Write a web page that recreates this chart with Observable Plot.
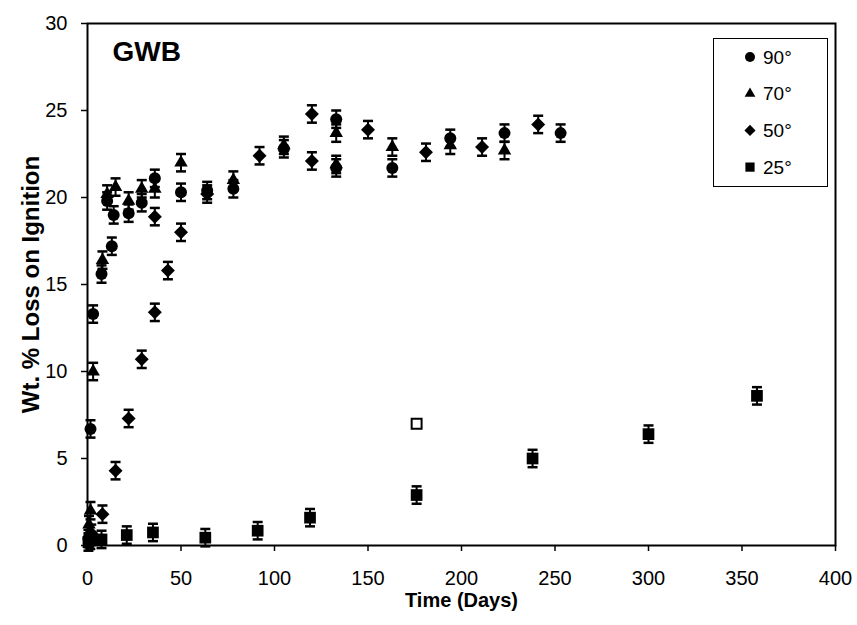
<!DOCTYPE html>
<html>
<head>
<meta charset="utf-8">
<script src="https://cdn.jsdelivr.net/npm/d3@7"></script>
<script src="https://cdn.jsdelivr.net/npm/@observablehq/plot@0.6"></script>
<style>
  body { margin: 0; background: #fff; }
  #wrap { position: relative; width: 857px; height: 625px; font-family: "Liberation Sans", Arial, sans-serif; }
  #legend { position: absolute; left: 713px; top: 38px; }
</style>
</head>
<body>
<div id="wrap"><div id="chart"></div><div id="legend"></div></div>
<script>
// ---- data ----
const days90 = [0.5, 1.6, 3, 7.5, 10.5, 13, 14, 22, 29, 36, 50, 64, 78, 105, 133, 133, 163, 194, 223, 253];
const wt90   = [0.4, 6.7, 13.3, 15.6, 19.8, 17.2, 19.0, 19.1, 19.7, 21.1, 20.3, 20.4, 20.5, 22.8, 24.5, 21.7, 21.7, 23.4, 23.7, 23.7];

const days70 = [0.8, 1.6, 3, 8, 10.5, 15, 22, 29, 36, 50, 78, 105, 133, 133, 163, 194, 223];
const wt70   = [1.2, 2.0, 10.0, 16.4, 20.2, 20.6, 19.8, 20.5, 20.5, 22.0, 21.0, 23.0, 23.7, 21.9, 22.9, 23.0, 22.7];

const days50 = [2, 8, 15, 22, 29, 36, 36, 43, 50, 64, 92, 120, 120, 150, 181, 211, 241];
const wt50   = [0.7, 1.8, 4.3, 7.3, 10.7, 13.4, 18.9, 15.8, 18.0, 20.2, 22.4, 24.8, 22.1, 23.9, 22.6, 22.9, 24.2];

const days25 = [0.5, 1.5, 7.5, 21, 35, 63, 91, 119, 176, 238, 300, 358];
const wt25   = [0.2, 0.3, 0.35, 0.6, 0.75, 0.45, 0.85, 1.6, 2.9, 5.0, 6.4, 8.6];

const daysOpen = [176];
const wtOpen   = [7.0];

const errHalf = 0.5;
const xTicks = [0, 50, 100, 150, 200, 250, 300, 350, 400];
const yTicks = [0, 5, 10, 15, 20, 25, 30];
const seriesNames = ["90°", "70°", "50°", "25°"];
const seriesSymbols = ["circle", "triangle", "diamond2", "square"];
const seriesR = [6, 5, 6.3, 6.6];

// ---- build rows ----
const sets = [[days90, wt90], [days70, wt70], [days50, wt50], [days25, wt25]];
const rows = [];
sets.forEach(([ds, vs], i) => ds.forEach((d, j) => rows.push({day: d, v: vs[j], s: i})));
const openRows = daysOpen.map((d, j) => ({day: d, v: wtOpen[j]}));

const capSymbol = {
  draw(ctx, size) { const w = Math.sqrt(size / Math.PI); ctx.moveTo(-w, 0); ctx.lineTo(w, 0); }
};

const font = "Liberation Sans, Arial, sans-serif";

const marks = [
  Plot.ruleX(rows, {x: "day", y1: d => d.v - errHalf, y2: d => d.v + errHalf, stroke: "black", strokeWidth: 2}),
  Plot.dot(rows, {x: "day", y: d => d.v + errHalf, symbol: capSymbol, r: 5, stroke: "black", fill: "none", strokeWidth: 2.5}),
  Plot.dot(rows, {x: "day", y: d => d.v - errHalf, symbol: capSymbol, r: 5, stroke: "black", fill: "none", strokeWidth: 2.5}),
];
seriesSymbols.forEach((sym, i) => {
  marks.push(Plot.dot(rows.filter(d => d.s === i), {x: "day", y: "v", symbol: sym, r: seriesR[i], fill: "black", stroke: "none"}));
});
marks.push(Plot.dot(openRows, {x: "day", y: "v", symbol: "square", r: 5.6, fill: "white", stroke: "black", strokeWidth: 2}));
marks.push(
  Plot.axisX({ticks: xTicks, tickSize: 6, tickPadding: 19, fontSize: 20, label: null, tickFormat: d => String(d), strokeWidth: 1.5}),
  Plot.axisY({ticks: yTicks, tickSize: 6, tickPadding: 14, fontSize: 20, label: null, tickFormat: d => String(d), strokeWidth: 1.5}),
  Plot.frame({stroke: "black", strokeWidth: 2}),
  Plot.text(["Time (Days)"], {frameAnchor: "bottom", dy: 61, fontSize: 20, fontWeight: "bold", fill: "black"}),
  Plot.text(["Wt. % Loss on Ignition"], {frameAnchor: "left", dx: -56, rotate: -90, textAnchor: "middle", fontSize: 24, fontWeight: "bold", fill: "black"}),
  Plot.text(["GWB"], {frameAnchor: "top-left", dx: 25, dy: 18, fontSize: 28, fontWeight: "bold", textAnchor: "start", lineAnchor: "top", fill: "black"})
);

const chart = Plot.plot({
  width: 857,
  height: 625,
  marginLeft: 87,
  marginRight: 22,
  marginTop: 23,
  marginBottom: 80,
  x: {domain: [0, 400]},
  y: {domain: [0, 30]},
  style: {background: "white", color: "black", fontFamily: font},
  marks
});
document.getElementById("chart").appendChild(chart);

// ---- legend (HTML/SVG overlay inside the plot area) ----
const lw = 115, lh = 149;
const lsvg = d3.select("#legend").append("svg").attr("width", lw).attr("height", lh);
lsvg.append("rect").attr("x", 0.5).attr("y", 0.5).attr("width", lw - 1).attr("height", lh - 1)
  .attr("fill", "white").attr("stroke", "black").attr("stroke-width", 1);
const d3Sym = {circle: d3.symbolCircle, triangle: d3.symbolTriangle, diamond2: d3.symbolDiamond2, square: d3.symbolSquare};
const legR = [5, 4, 5, 5.2];
seriesNames.forEach((name, i) => {
  const cy = 19 + i * 36.7;
  lsvg.append("path")
    .attr("transform", `translate(37,${cy})`)
    .attr("d", d3.symbol(d3Sym[seriesSymbols[i]], Math.PI * legR[i] * legR[i])())
    .attr("fill", "black");
  lsvg.append("text").attr("x", 50).attr("y", cy + 6.5)
    .attr("font-family", font).attr("font-size", 19).attr("fill", "black").text(name);
});
</script>
</body>
</html>
